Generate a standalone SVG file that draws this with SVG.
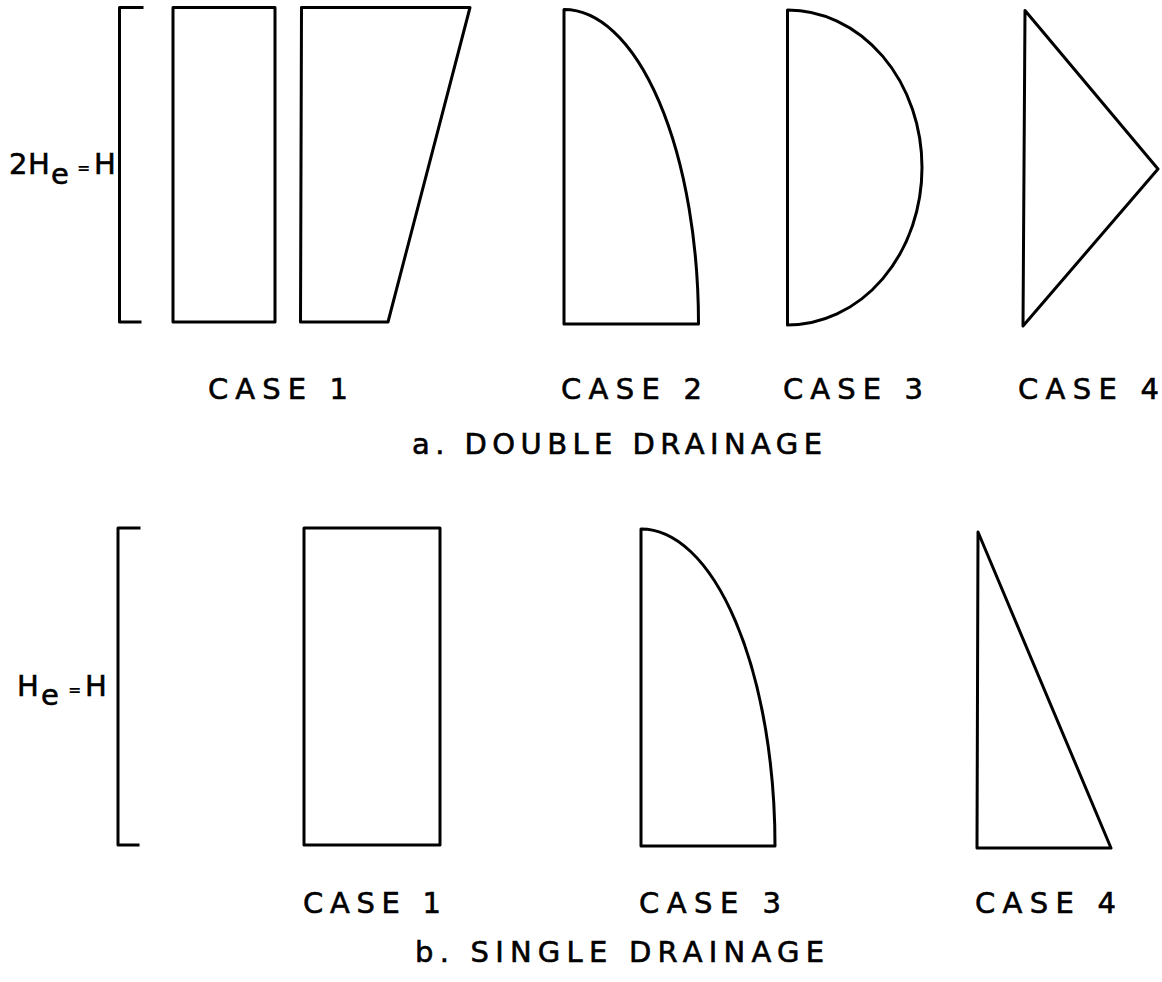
<svg xmlns="http://www.w3.org/2000/svg" width="1162" height="982" viewBox="0 0 1162 982">
<style>
.s{fill:none;stroke:#000;stroke-width:3;stroke-linejoin:round;stroke-linecap:square}
.t{font-family:"DejaVu Sans","Liberation Sans",sans-serif;font-size:29px;fill:#000;stroke:#000;stroke-width:0.6}
.eq{font-family:"DejaVu Sans","Liberation Sans",sans-serif;font-size:16px;font-weight:bold;fill:#000}
</style>
<rect width="1162" height="982" fill="#fff"/>
<g id="double-drainage">
  <g id="dim-a">
    <path class="s" d="M142,7.5 H119.5 V322 H140"/>
    <text class="t" x="9" y="174">2</text>
    <text class="t" x="28" y="174">H</text>
    <text class="t" x="51" y="184">e</text>
    <text class="eq" x="77" y="173">=</text>
    <text class="t" x="94" y="174">H</text>
  </g>
  <g id="a-case1-rect"><rect class="s" x="173" y="7.5" width="102" height="314.5"/></g>
  <g id="a-case1-trap"><path class="s" d="M301.5,7.5 L470,7.5 L388,322 L300.5,322 Z"/></g>
  <g id="a-case2"><path class="s" d="M564,9.5 A134.5,314.5 0 0 1 698.5,324 L564,324 Z"/></g>
  <g id="a-case3"><path class="s" d="M787.5,10 A134.5,157.5 0 0 1 787.5,325 Z"/></g>
  <g id="a-case4"><path class="s" d="M1025,10.5 L1158,169 L1023,326 Z"/></g>
  <g id="a-labels">
    <text class="t" x="208" y="399" textLength="140" lengthAdjust="spacing">CASE 1</text>
    <text class="t" x="561" y="399" textLength="141" lengthAdjust="spacing">CASE 2</text>
    <text class="t" x="783" y="399" textLength="140" lengthAdjust="spacing">CASE 3</text>
    <text class="t" x="1018" y="399" textLength="141" lengthAdjust="spacing">CASE 4</text>
    <text class="t" x="412" y="454" textLength="410" lengthAdjust="spacing">a. DOUBLE DRAINAGE</text>
  </g>
</g>
<g id="single-drainage">
  <g id="dim-b">
    <path class="s" d="M139,528 H118 V845 H138"/>
    <text class="t" x="17" y="696">H</text>
    <text class="t" x="41" y="705">e</text>
    <text class="eq" x="68" y="695">=</text>
    <text class="t" x="85" y="696">H</text>
  </g>
  <g id="b-case1"><rect class="s" x="304" y="528" width="136" height="317"/></g>
  <g id="b-case3"><path class="s" d="M641,529 A134,317 0 0 1 775,846 L641,846 Z"/></g>
  <g id="b-case4"><path class="s" d="M978,532 L1111,848 L977,848 Z"/></g>
  <g id="b-labels">
    <text class="t" x="303" y="913" textLength="138" lengthAdjust="spacing">CASE 1</text>
    <text class="t" x="639" y="913" textLength="142" lengthAdjust="spacing">CASE 3</text>
    <text class="t" x="975" y="913" textLength="141" lengthAdjust="spacing">CASE 4</text>
    <text class="t" x="415" y="962" textLength="409" lengthAdjust="spacing">b. SINGLE DRAINAGE</text>
  </g>
</g>
<g id="connectors"/>
</svg>
